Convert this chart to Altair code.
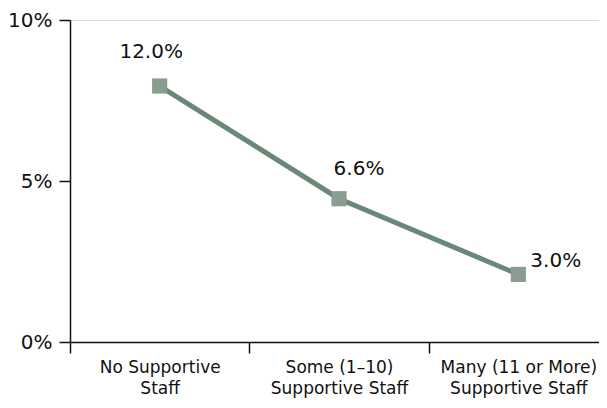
import altair as alt
import pandas as pd

categories = ["No Supportive|Staff", "Some (1–10)|Supportive Staff", "Many (11 or More)|Supportive Staff"]
plotted = [7.95, 4.45, 2.1]
labels = ["12.0%", "6.6%", "3.0%"]
y_ticks = [0, 5, 10]

df = pd.DataFrame({"cat": categories, "val": plotted, "lab": labels, "idx": [0, 1, 2]})

FONT = "DejaVu Sans"
LINE = "#698878"
MARK = "#889C8F"

x = alt.X("cat:N", sort=categories, title=None,
          scale=alt.Scale(paddingInner=0, paddingOuter=0, range=[0, 538]),
          axis=alt.Axis(labelExpr="split(datum.label, '|')", labelAngle=0, tickBand="extent",
                        labelFontSize=17, labelFont=FONT, labelColor="#111", labelPadding=6,
                        tickSize=11, tickColor="#111", domainColor="#111", domainWidth=1.5,
                        tickWidth=1.5, labelLineHeight=21))
y = alt.Y("val:Q", title=None, scale=alt.Scale(domain=[0, 10]),
          axis=alt.Axis(values=y_ticks, labelExpr="datum.value + '%'", grid=False,
                        labelFontSize=20, labelFont=FONT, labelColor="#111", labelPadding=7,
                        tickSize=11, tickColor="#111", domainColor="#111", domainWidth=1.5,
                        tickWidth=1.5))

base = alt.Chart(df).encode(x=x, y=y)
line = base.mark_line(color=LINE, strokeWidth=5)
pts = base.mark_point(shape="square", filled=True, size=230, color=MARK, opacity=1)

def lbl(i, dx, dy, align):
    return base.transform_filter(alt.datum.idx == i).mark_text(
        dx=dx, dy=dy, align=align, baseline="middle", fontSize=20, font=FONT, color="#111"
    ).encode(text="lab:N")

chart = alt.layer(line, pts, lbl(0, -8.5, -34, "center"), lbl(1, 20, -30, "center"), lbl(2, 12, -13, "left")).properties(
    width=529, height=322,
    autosize=alt.AutoSizeParams(type="none"),
    padding={"left": 62, "top": 12, "right": 0, "bottom": 58},
).configure_view(stroke=None).configure(background="white")

chart.save("out.html", embed_options={"renderer": "svg", "actions": False})
